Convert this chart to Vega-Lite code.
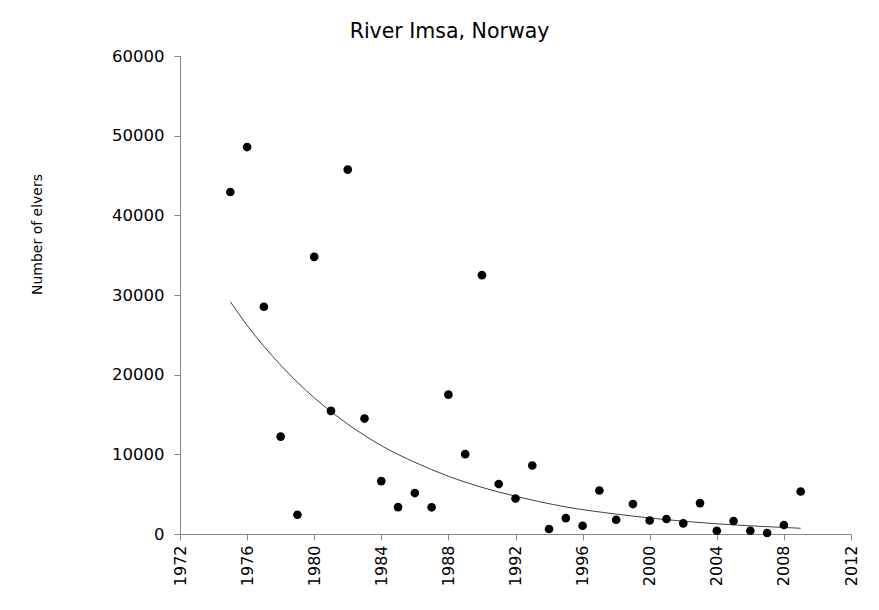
{
  "$schema": "https://vega.github.io/schema/vega-lite/v6.json",
  "autosize": "none",
  "width": 671,
  "height": 478,
  "padding": {"left": 180, "top": 56, "right": 28, "bottom": 76},
  "background": "white",
  "title": {
    "text": "River Imsa, Norway",
    "font": "DejaVu Sans",
    "fontSize": 20.5,
    "fontWeight": "normal",
    "color": "#000000",
    "anchor": "middle",
    "frame": "group",
    "dx": -66,
    "dy": 19,
    "offset": 9,
    "baseline": "alphabetic"
  },
  "datasets": {
    "obs": [
      {"year": 1975, "elvers": 42930},
      {"year": 1976, "elvers": 48570},
      {"year": 1977, "elvers": 28520},
      {"year": 1978, "elvers": 12230},
      {"year": 1979, "elvers": 2420},
      {"year": 1980, "elvers": 34790},
      {"year": 1981, "elvers": 15450},
      {"year": 1982, "elvers": 45740},
      {"year": 1983, "elvers": 14490},
      {"year": 1984, "elvers": 6640},
      {"year": 1985, "elvers": 3380},
      {"year": 1986, "elvers": 5140},
      {"year": 1987, "elvers": 3350},
      {"year": 1988, "elvers": 17490},
      {"year": 1989, "elvers": 10020},
      {"year": 1990, "elvers": 32490},
      {"year": 1991, "elvers": 6270},
      {"year": 1992, "elvers": 4460},
      {"year": 1993, "elvers": 8600},
      {"year": 1994, "elvers": 630},
      {"year": 1995, "elvers": 2000},
      {"year": 1996, "elvers": 1040},
      {"year": 1997, "elvers": 5460},
      {"year": 1998, "elvers": 1790},
      {"year": 1999, "elvers": 3760},
      {"year": 2000, "elvers": 1700},
      {"year": 2001, "elvers": 1880},
      {"year": 2002, "elvers": 1330},
      {"year": 2003, "elvers": 3880},
      {"year": 2004, "elvers": 410},
      {"year": 2005, "elvers": 1630},
      {"year": 2006, "elvers": 410},
      {"year": 2007, "elvers": 125},
      {"year": 2008, "elvers": 1130},
      {"year": 2009, "elvers": 5340}
    ],
    "trend": [
      {"year": 1975, "elvers": 29150},
      {"year": 1976, "elvers": 26200},
      {"year": 1978, "elvers": 21200},
      {"year": 1980, "elvers": 17100},
      {"year": 1982, "elvers": 13800},
      {"year": 1984, "elvers": 11100},
      {"year": 1986, "elvers": 9000},
      {"year": 1988, "elvers": 7250},
      {"year": 1990, "elvers": 5850},
      {"year": 1992, "elvers": 4750},
      {"year": 1995, "elvers": 3400},
      {"year": 1998, "elvers": 2500},
      {"year": 2001, "elvers": 1800},
      {"year": 2004, "elvers": 1280},
      {"year": 2007, "elvers": 920},
      {"year": 2009, "elvers": 720}
    ]
  },
  "encoding": {
    "x": {
      "field": "year",
      "type": "quantitative",
      "scale": {"domain": [1972, 2012], "nice": false, "zero": false},
      "axis": {
        "title": null,
        "values": [1972, 1976, 1980, 1984, 1988, 1992, 1996, 2000, 2004, 2008, 2012],
        "format": "d",
        "labelAngle": -90,
        "labelFontSize": 16,
        "labelPadding": 5,
        "tickSize": 6
      }
    },
    "y": {
      "field": "elvers",
      "type": "quantitative",
      "scale": {"domain": [0, 60000], "nice": false},
      "axis": {
        "title": "Number of elvers",
        "values": [0, 10000, 20000, 30000, 40000, 50000, 60000],
        "format": "d",
        "labelFontSize": 16.5,
        "labelPadding": 10,
        "tickSize": 6,
        "titleFontSize": 14,
        "titleFontWeight": "normal",
        "titleAngle": -90,
        "titleAlign": "center",
        "titleBaseline": "alphabetic",
        "titleX": -139,
        "titleY": 178
      }
    }
  },
  "layer": [
    {
      "data": {"name": "trend"},
      "mark": {"type": "line", "interpolate": "monotone", "color": "#404040", "strokeWidth": 1}
    },
    {
      "data": {"name": "obs"},
      "mark": {"type": "circle", "size": 75, "color": "#000000", "opacity": 1}
    }
  ],
  "config": {
    "view": {"stroke": null},
    "axis": {
      "grid": false,
      "domainColor": "#888888",
      "tickColor": "#888888",
      "labelColor": "#000000",
      "titleColor": "#000000",
      "labelFont": "DejaVu Sans",
      "titleFont": "DejaVu Sans"
    }
  }
}
